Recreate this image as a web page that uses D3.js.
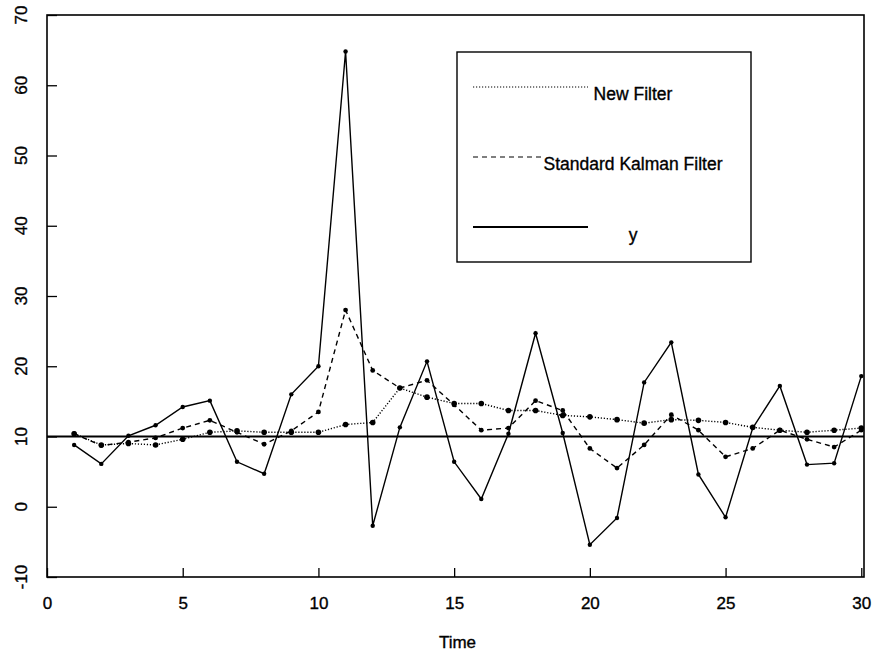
<!DOCTYPE html>
<html>
<head>
<meta charset="utf-8">
<script src="https://cdn.jsdelivr.net/npm/d3@7"></script>
<style>
  body { margin: 0; background: #fff; }
  svg { display: block; font-family: "Liberation Sans", Arial, sans-serif; }
  text { fill: #000; stroke: #000; stroke-width: 0.35px; }
</style>
</head>
<body>
<div id="chart"></div>
<script>
// series
const time = d3.range(1, 31);
const yObs = [8.8, 6.1, 10.1, 11.6, 14.2, 15.1, 6.4, 4.7, 16.0, 20.0,
              64.8, -2.7, 11.3, 20.7, 6.4, 1.1, 10.4, 24.7, 10.5, -5.4,
              -1.6, 17.7, 23.4, 4.6, -1.5, 11.2, 17.2, 6.0, 6.2, 18.6];
const kalman = [10.4, 8.7, 9.2, 9.8, 11.2, 12.3, 10.6, 8.9, 10.8, 13.5,
                28.0, 19.4, 16.9, 18.0, 14.5, 10.9, 11.2, 15.1, 13.7, 8.3,
                5.5, 8.8, 13.1, 10.9, 7.1, 8.3, 10.9, 9.6, 8.5, 10.9];
const newFilter = [10.4, 8.8, 9.0, 8.8, 9.6, 10.6, 10.8, 10.6, 10.6, 10.6,
                   11.7, 12.0, 16.9, 15.6, 14.7, 14.7, 13.7, 13.7, 13.0, 12.8,
                   12.4, 11.9, 12.4, 12.3, 12.0, 11.3, 10.9, 10.6, 10.9, 11.2];
const refLevel = 10;
const xTicks = [0, 5, 10, 15, 20, 25, 30];
const yTicks = [-10, 0, 10, 20, 30, 40, 50, 60, 70];
const legendItems = [
  { label: "New Filter", dash: "1.2,1.8" },
  { label: "Standard Kalman Filter", dash: "5,4" },
  { label: "y", dash: null }
];

const width = 872, height = 658;
const box = { left: 47, right: 864, top: 15, bottom: 577 };

const svg = d3.select("#chart").append("svg")
    .attr("width", width)
    .attr("height", height);

const x = d3.scaleLinear().domain([0, 30.1]).range([box.left, box.right]);
const y = d3.scaleLinear().domain([-10, 70]).range([box.bottom, box.top]);

// axes, ticks pointing into the plot
const xAxis = svg.append("g")
    .attr("transform", `translate(0,${box.bottom})`)
    .call(d3.axisBottom(x).tickValues(xTicks).tickSizeInner(-9).tickSizeOuter(0).tickPadding(20));
const yAxis = svg.append("g")
    .attr("transform", `translate(${box.left},0)`)
    .call(d3.axisLeft(y).tickValues(yTicks).tickSizeInner(-10).tickSizeOuter(0).tickFormat(""));

xAxis.select(".domain").remove();
yAxis.select(".domain").remove();
svg.selectAll(".tick line").attr("stroke", "#000").attr("stroke-width", 1.3);
xAxis.selectAll(".tick text")
    .attr("font-size", 17)
    .attr("font-family", "Liberation Sans, Arial, sans-serif");

// rotated y labels, R style
svg.append("g").selectAll("text")
    .data(yTicks)
    .enter().append("text")
    .attr("transform", d => `translate(27,${y(d)}) rotate(-90)`)
    .attr("text-anchor", "middle")
    .attr("font-size", 17)
    .text(d => d);

// frame
svg.append("rect")
    .attr("x", box.left).attr("y", box.top)
    .attr("width", box.right - box.left).attr("height", box.bottom - box.top)
    .attr("fill", "none").attr("stroke", "#000").attr("stroke-width", 1.6);

svg.append("text")
    .attr("x", (box.left + box.right) / 2 + 2)
    .attr("y", 648)
    .attr("text-anchor", "middle")
    .attr("font-size", 17)
    .text("Time");

// reference line
svg.append("line")
    .attr("x1", box.left).attr("x2", box.right)
    .attr("y1", y(refLevel)).attr("y2", y(refLevel))
    .attr("stroke", "#000").attr("stroke-width", 2.2);

const line = d3.line().x(d => x(d[0])).y(d => y(d[1]));

function drawSeries(values, dash, r) {
  const pts = time.map((t, i) => [t, values[i]]);
  const path = svg.append("path")
      .datum(pts)
      .attr("d", line)
      .attr("fill", "none")
      .attr("stroke", "#000")
      .attr("stroke-width", 1.4);
  if (dash) path.attr("stroke-dasharray", dash);
  svg.append("g").selectAll("circle")
      .data(pts)
      .enter().append("circle")
      .attr("cx", d => x(d[0]))
      .attr("cy", d => y(d[1]))
      .attr("r", r)
      .attr("fill", "#000");
}

drawSeries(newFilter, "1.2,1.8", 2.8);
drawSeries(kalman, "5,4", 2.4);
drawSeries(yObs, null, 2.2);

// legend
const lg = { left: 457, top: 52, right: 751, bottom: 262 };
svg.append("rect")
    .attr("x", lg.left).attr("y", lg.top)
    .attr("width", lg.right - lg.left).attr("height", lg.bottom - lg.top)
    .attr("fill", "#fff").attr("stroke", "#000").attr("stroke-width", 1.4);

const legendRows = [87, 157, 227];
const legend = svg.selectAll(".legend")
    .data(legendItems)
    .enter().append("g")
    .attr("class", "legend")
    .attr("transform", (d, i) => `translate(0,${legendRows[i]})`);

legend.append("line")
    .attr("x1", 473)
    .attr("x2", (d, i) => i === 1 ? 543 : 588)
    .attr("stroke", "#000")
    .attr("stroke-width", (d, i) => i === 2 ? 1.8 : 1.2)
    .attr("stroke-dasharray", d => d.dash);

legend.append("text")
    .attr("x", 633)
    .attr("y", (d, i) => i === 2 ? 14 : 13)
    .attr("text-anchor", "middle")
    .attr("font-size", 17.5)
    .text(d => d.label);
</script>
</body>
</html>
